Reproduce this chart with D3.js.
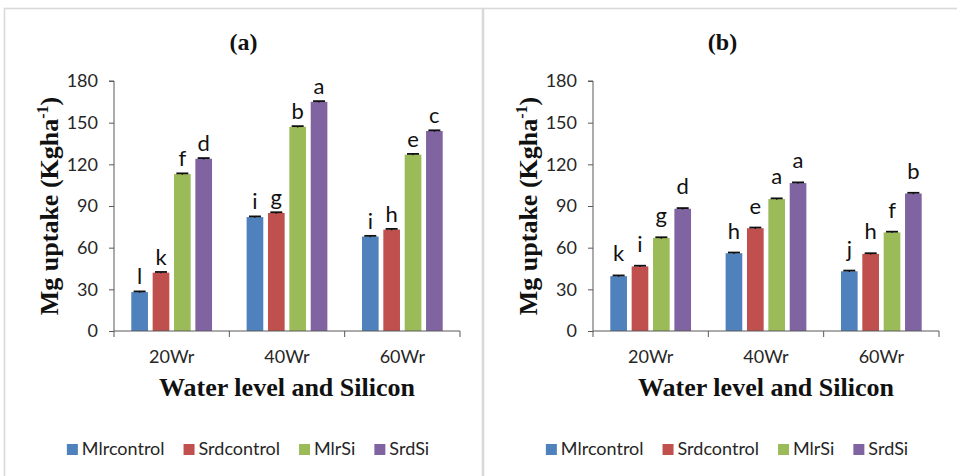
<!DOCTYPE html>
<html>
<head>
<meta charset="utf-8">
<script src="https://cdn.jsdelivr.net/npm/d3@7"></script>
<style>
  html, body { margin: 0; padding: 0; background: #fff; }
  svg { display: block; }
</style>
</head>
<body>
<svg id="chart" width="957" height="476"></svg>
<script>
// Water level groups and treatment series
const categories = ["20Wr", "40Wr", "60Wr"];
const seriesNames = ["Mlrcontrol", "Srdcontrol", "MlrSi", "SrdSi"];
const yTicks = [0, 30, 60, 90, 120, 150, 180];

// Panel (a): Mg uptake per series, in category order
const valuesA = {
  Mlrcontrol: [28, 82, 68],
  Srdcontrol: [42, 85, 73],
  MlrSi: [113, 147, 127],
  SrdSi: [124, 165, 144]
};
const lettersA = {
  Mlrcontrol: ["l", "i", "i"],
  Srdcontrol: ["k", "g", "h"],
  MlrSi: ["f", "b", "e"],
  SrdSi: ["d", "a", "c"]
};

// Panel (b)
const valuesB = {
  Mlrcontrol: [39.5, 56, 43],
  Srdcontrol: [46.5, 74, 55.5],
  MlrSi: [67, 95, 71],
  SrdSi: [88, 106.5, 99]
};
const lettersB = {
  Mlrcontrol: ["k", "h", "j"],
  Srdcontrol: ["i", "e", "h"],
  MlrSi: ["g", "a", "f"],
  SrdSi: ["d", "a", "b"]
};

// Standard errors (small)
const errorsA = {
  Mlrcontrol: [0.5, 0.5, 0.5],
  Srdcontrol: [0.5, 0.5, 0.5],
  MlrSi: [0.5, 0.5, 0.5],
  SrdSi: [0.5, 0.5, 0.5]
};
const errorsB = errorsA;

const colors = ["#4f81bd", "#c0504d", "#9bbb59", "#8064a2"];

const svg = d3.select("#chart");
const sansFont = "Lato, 'Open Sans', sans-serif";
const serifFont = "'Liberation Serif', 'DejaVu Serif', serif";

function drawPanel(offsetX, title, values, letters, errors, letterGap, frameW) {
  const g = svg.append("g").attr("transform", `translate(${offsetX},0)`);

  // panel frame
  g.append("rect")
    .attr("x", 4.5).attr("y", 8.5)
    .attr("width", frameW).attr("height", 500)
    .attr("fill", "none")
    .attr("stroke", "#d9d9d9")
    .attr("stroke-width", 1.6);

  const plot = { left: 114, right: 460, top: 81, bottom: 331 };

  const y = d3.scaleLinear().domain([0, 180]).range([plot.bottom, plot.top]);
  const x = d3.scaleBand().domain(categories)
    .range([plot.left, plot.right])
    .paddingInner(0.3).paddingOuter(0.15);
  const xs = d3.scaleBand().domain(seriesNames)
    .range([0, x.bandwidth()])
    .paddingInner(0.22).paddingOuter(0);

  // bars
  seriesNames.forEach((s, si) => {
    categories.forEach((c, ci) => {
      const v = values[s][ci];
      const bx = x(c) + xs(s);
      g.append("rect")
        .attr("x", bx)
        .attr("y", y(v))
        .attr("width", xs.bandwidth())
        .attr("height", y(0) - y(v))
        .attr("fill", colors[si]);

      // error bar
      const e = errors[s][ci];
      const cx = bx + xs.bandwidth() / 2;
      g.append("line")
        .attr("x1", cx).attr("x2", cx)
        .attr("y1", y(v - e)).attr("y2", y(v + e))
        .attr("stroke", "#000").attr("stroke-width", 1.2);
      g.append("line")
        .attr("x1", cx - 6).attr("x2", cx + 6)
        .attr("y1", y(v + e)).attr("y2", y(v + e))
        .attr("stroke", "#111").attr("stroke-width", 1.8);

      // significance letter
      g.append("text")
        .attr("x", cx)
        .attr("y", y(v + e) - letterGap)
        .attr("text-anchor", "middle")
        .attr("font-family", sansFont)
        .attr("font-size", 22)
        .attr("fill", "#111")
        .text(letters[s][ci]);
    });
  });

  // y axis
  const yAxis = d3.axisLeft(y).tickValues(yTicks).tickSize(5).tickPadding(11);
  const ya = g.append("g").attr("transform", `translate(${plot.left},0)`).call(yAxis);
  ya.select(".domain").attr("stroke", "#595959").attr("d", `M-5,${plot.top}H0V${plot.bottom}`);
  ya.selectAll(".tick line").attr("stroke", "#595959");
  ya.selectAll(".tick text")
    .attr("font-family", sansFont).attr("font-size", 18).attr("fill", "#262626");

  // x axis with ticks at group boundaries
  const xa = g.append("g").attr("transform", `translate(0,${plot.bottom})`);
  xa.append("line")
    .attr("x1", plot.left).attr("x2", plot.right)
    .attr("stroke", "#595959");
  const step = x.step();
  const bounds = d3.range(categories.length + 1).map(i => plot.left + i * step);
  xa.selectAll("line.tk").data(bounds).enter().append("line")
    .attr("class", "tk")
    .attr("x1", d => d).attr("x2", d => d)
    .attr("y1", 0).attr("y2", 6)
    .attr("stroke", "#595959");
  xa.selectAll("text").data(categories).enter().append("text")
    .attr("x", d => x(d) + x.bandwidth() / 2)
    .attr("y", 32)
    .attr("text-anchor", "middle")
    .attr("font-family", sansFont).attr("font-size", 18).attr("fill", "#262626")
    .text(d => d);

  // panel title
  g.append("text")
    .attr("x", 4.5 + Math.min(frameW, 478) / 2).attr("y", 50)
    .attr("text-anchor", "middle")
    .attr("font-family", serifFont).attr("font-weight", "bold")
    .attr("font-size", 24).attr("fill", "#111")
    .text(title);

  // y axis title
  const yt = g.append("text")
    .attr("transform", `translate(58,${(plot.top + plot.bottom) / 2}) rotate(-90)`)
    .attr("text-anchor", "middle")
    .attr("font-family", serifFont).attr("font-weight", "bold")
    .attr("font-size", 26).attr("fill", "#111");
  yt.append("tspan").text("Mg uptake (Kgha");
  yt.append("tspan").attr("font-size", 16).attr("dy", -10).text("-1");
  yt.append("tspan").attr("dy", 10).text(")");

  // x axis title
  g.append("text")
    .attr("x", (plot.left + plot.right) / 2).attr("y", 396)
    .attr("text-anchor", "middle")
    .attr("font-family", serifFont).attr("font-weight", "bold")
    .attr("font-size", 26).attr("fill", "#111")
    .text("Water level and Silicon");

  // legend
  const lg = g.append("g");
  let cursor = 0;
  seriesNames.forEach((s, si) => {
    const it = lg.append("g");
    it.append("rect")
      .attr("x", cursor).attr("y", 444)
      .attr("width", 11).attr("height", 11)
      .attr("fill", colors[si]);
    const t = it.append("text")
      .attr("x", cursor + 15).attr("y", 455)
      .attr("font-family", sansFont).attr("font-size", 18).attr("fill", "#262626")
      .text(s);
    cursor += 15 + t.node().getComputedTextLength() + 19;
  });
  const legendW = cursor - 19;
  lg.attr("transform", `translate(${248 - legendW / 2},0)`);
}

drawPanel(0, "(a)", valuesA, lettersA, errorsA, 7, 478);
drawPanel(479, "(b)", valuesB, lettersB, errorsB, 14, 500);
</script>
</body>
</html>
